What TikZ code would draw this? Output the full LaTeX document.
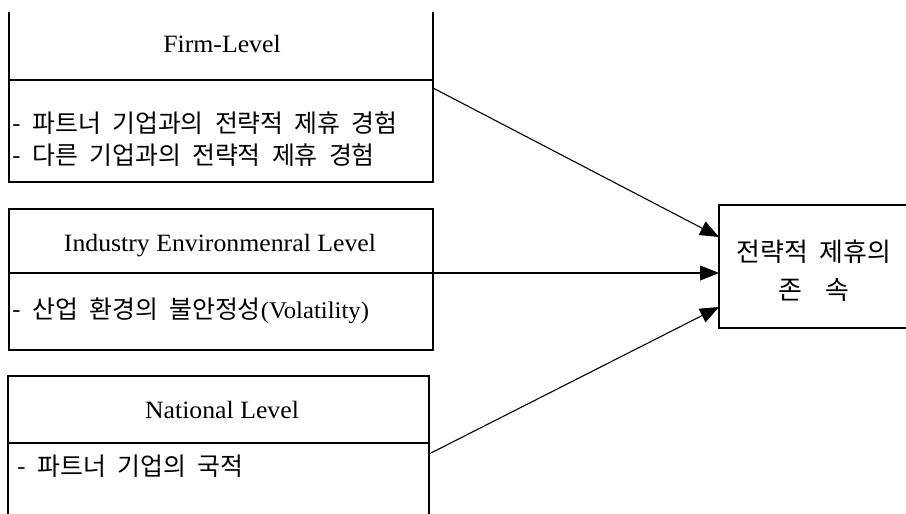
\documentclass[tikz,border=0pt]{standalone}
\usepackage{fontspec}
\setmainfont[FakeStretch=1.035]{Liberation Serif}
\newfontfamily\kr[WordSpace=2]{Noto Sans CJK KR}
\usetikzlibrary{arrows.meta}
\begin{document}
\begin{tikzpicture}[x=1bp,y=-1bp,line width=1.1bp,
  lvl/.style={font=\fontsize{25}{29}\selectfont,anchor=base,inner sep=0},
  item/.style={font=\kr\fontsize{25}{29}\selectfont,anchor=west,inner sep=0},
  arr/.style={-{Triangle[length=19bp,width=15bp]}}]
\useasboundingbox (0,0) rectangle (906,514);
% Firm-level box (open top)
\coordinate (f1) at (9,12);
\coordinate (f2) at (433,12);
\draw (f1) -- (9,182) -- (433,182) -- (f2);
\draw (9,80) -- (433,80);
\node[lvl] (firm) at (222,53) {Firm-Level};
\node[item] (fa) at (12,123) {- 파트너 기업과의 전략적 제휴 경험};
\node[item] (fb) at (12,155) {- 다른 기업과의 전략적 제휴 경험};
\coordinate (s1) at (433,88);
% Industry box
\draw (9,209) rectangle (433,350);
\coordinate (s2) at (9,273);
\node[lvl] (ind) at (220,252) {Industry Environmenral Level};
\node[item] (ia) at (12,311) {- 산업 환경의 불안정성{\rmfamily\fontsize{24}{28}\selectfont (Volatility)}};
% National box (open bottom)
\draw (8,514) -- (8,376) -- (429,376) -- (429,514);
\draw (8,443) -- (429,443);
\node[lvl] (nat) at (222,418) {National Level};
\node[item] (na) at (17,466) {- 파트너 기업의 국적};
\coordinate (s3) at (429,454);
% Outcome box (right side beyond edge)
\node[font=\kr\fontsize{26}{38}\selectfont,align=center,inner sep=0] (out) at (814,271) {전략적 제휴의\\존\hspace{0.9em}속};
\draw (906,205) -- (719,205) -- (719,328) -- (906,328);
\coordinate (t1) at (719,237);
\coordinate (t2) at (719,273);
\coordinate (t3) at (719,307);
% Arrows
\draw[arr] (s1) -- (t1);
\draw[arr] (s2) -- (t2);
\draw[arr] (s3) -- (t3);
\end{tikzpicture}
\end{document}
